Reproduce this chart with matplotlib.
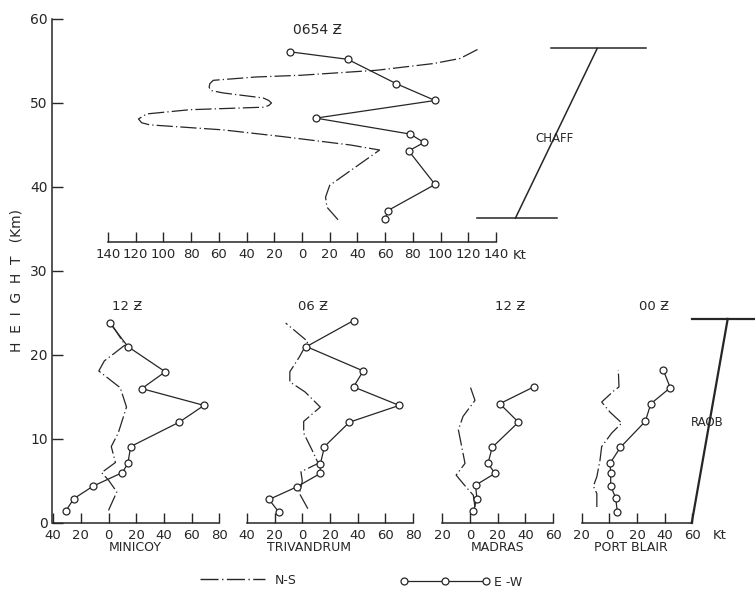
import numpy as np
import matplotlib
matplotlib.use("Agg")
import matplotlib.pyplot as plt
from matplotlib.lines import Line2D
from matplotlib.ticker import FuncFormatter

# ---------------- data (wind component in kt, height in km) ----------------
# 0654 Z chaff sounding
chaff_ew_kt = [-9, 33, 68, 96, 10, 78, 88, 77, 96, 62, 60]
chaff_ew_km = [56.1, 55.2, 52.3, 50.3, 48.2, 46.3, 45.3, 44.3, 40.3, 37.2, 36.2]
chaff_ns_kt = [26, 18, 17, 20, 38, 56, 35, -14, -57, -110, -115.7, -118, -114.5, -112,
               -81, -28, -24, -22, -24, -28, -57, -66, -67, -66.5, -64, -33, -1,
               54, 95, 114, 127]
chaff_ns_km = [36.1, 37.6, 38.8, 40.2, 42.3, 44.4, 45.0, 46.0, 46.8, 47.4, 47.65, 48.1,
               48.45, 48.7, 49.2, 49.5, 49.7, 50.0, 50.3, 50.6, 51.2, 51.5, 51.9, 52.3,
               52.7, 53.1, 53.3, 53.9, 54.7, 55.3, 56.4]

# Minicoy 12 Z
mini_ew_kt = [1, 14, 41, 24, 69, 51, 16, 14, 10, -11, -25, -31]
mini_ew_km = [23.8, 21.0, 18.0, 16.0, 14.0, 12.0, 9.1, 7.1, 6.0, 4.4, 2.9, 1.4]
mini_ns_kt = [0, 6, 0, -5, 5, 2, 7, 13, 8.5, -7, -3, 5, 12, 0]
mini_ns_km = [1.5, 3.7, 5.1, 6.0, 7.2, 9.1, 10.7, 13.8, 16.1, 18.1, 19.3, 20.3, 21.2, 24.2]

# Trivandrum 06 Z
triv_ew_kt = [37, 3, 44, 37, 70, 34, 16, 13, 13, -4, -24, -17]
triv_ew_km = [24.1, 21.0, 18.1, 16.2, 14.0, 12.0, 9.1, 7.0, 5.9, 4.3, 2.8, 1.3]
triv_ns_kt = [4, -2, 0, -1, 11.5, 7, 1, 1, 13, 2, -9, -9, -2, 4, -12]
triv_ns_km = [1.7, 3.5, 5.0, 6.1, 7.1, 8.7, 10.7, 12.1, 13.8, 15.6, 16.8, 18.0, 19.8, 21.6, 23.8]

# Madras 12 Z
mad_ew_kt = [46, 21.5, 35, 16, 13, 18, 4, 5, 2.4]
mad_ew_km = [16.2, 14.2, 12.0, 9.0, 7.1, 5.9, 4.5, 2.9, 1.4]
mad_ns_kt = [3.6, 2.4, -5, -10, -3.6, -6, -8.4, -5, 3.6, 0]
mad_ns_km = [1.9, 3.3, 4.7, 5.7, 7.1, 9.1, 11.1, 12.7, 14.6, 16.3]

# Port Blair 00 Z
pb_ew_kt = [39, 44, 30, 26, 8, 0.5, 1, 1, 4.6, 5.8]
pb_ew_km = [18.2, 16.1, 14.2, 12.1, 9.0, 7.1, 5.9, 4.4, 3.0, 1.3]
pb_ns_kt = [-9, -9, -11.5, -9, -6.7, -5.5, 1.7, 9, 0.5, -5.5, 3, 7, 6.5]
pb_ns_km = [1.9, 3.5, 4.4, 5.5, 7.5, 9.1, 10.7, 11.9, 13.2, 14.4, 15.7, 16.2, 18.2]

# height ranges marked by the brackets
chaff_km = [36.3, 56.5]
raob_km = [0, 24.3]

# ---------------- layout helpers ----------------
W, H = 755, 591
Y0 = 523          # pixel row of 0 km
PX_KM = 8.4       # pixels per km
INK = "#262626"
NS_STYLE = (0, (13, 2.5, 1, 2.5))

fig = plt.figure(figsize=(W / 100, H / 100), dpi=100)
fig.patch.set_facecolor("white")


def h2fig(h):
    return 1 - (Y0 - h * PX_KM) / H


def panel(zero_px, scale, xlo, xhi, hlo, hhi):
    ax = fig.add_axes([(zero_px + xlo * scale) / W, h2fig(hlo),
                       (xhi - xlo) * scale / W, (hhi - hlo) * PX_KM / H])
    ax.set_xlim(xlo, xhi)
    ax.set_ylim(hlo, hhi)
    ax.patch.set_visible(False)
    for s in ["top", "right", "left"]:
        ax.spines[s].set_visible(False)
    ax.spines["bottom"].set_linewidth(1.1)
    ax.spines["bottom"].set_color(INK)
    ax.set_yticks([])
    ax.set_xticks(np.arange(xlo, xhi + 1, 20))
    ax.xaxis.set_major_formatter(FuncFormatter(lambda v, p: f"{abs(v):.0f}"))
    ax.tick_params(axis="x", direction="in", length=7, width=1, pad=4,
                   labelsize=9.5, colors=INK)
    return ax


def draw(ax, ns_kt, ns_km, ew_kt, ew_km):
    ax.plot(ns_kt, ns_km, color=INK, lw=0.9, ls=NS_STYLE, clip_on=False)
    ax.plot(ew_kt, ew_km, color=INK, lw=0.9, marker="o", ms=5, mfc="white",
            mec=INK, mew=0.9, clip_on=False)


# ---- height axis ----
hax = fig.add_axes([52 / W, h2fig(0), 0.001, 60 * PX_KM / H])
hax.set_ylim(0, 60)
hax.set_xticks([])
for s in ["top", "right", "bottom"]:
    hax.spines[s].set_visible(False)
hax.spines["left"].set_linewidth(1.1)
hax.spines["left"].set_color(INK)
hax.set_yticks(np.arange(0, 61, 10))
hax.tick_params(axis="y", direction="in", length=8, width=1, pad=3,
                labelsize=10, colors=INK)
fig.text(17 / W, 1 - 281 / H, "H  E  I  G  H  T   (Km)", rotation=90, ha="center",
         va="center", fontsize=10, color=INK)

# ---- upper panel: chaff ----
top = panel(302, 1.386, -140, 140, 33.4, 60)
draw(top, chaff_ns_kt, chaff_ns_km, chaff_ew_kt, chaff_ew_km)
top.text(11, 58.7, "0654 Ƶ", ha="center", va="center", fontsize=10, color=INK)
top.text(157, 31.9, "Kt", ha="center", va="center", fontsize=9.5, color=INK,
         clip_on=False)
top.plot([180, 248], [chaff_km[1]] * 2, color=INK, lw=1.1, clip_on=False)
top.plot([126, 184], [chaff_km[0]] * 2, color=INK, lw=1.1, clip_on=False)
top.plot([154, 213], chaff_km, color=INK, lw=1.1, clip_on=False)
top.text(182, 45.8, "CHAFF", ha="center", va="center", fontsize=8.5, color=INK)

# ---- lower panels: radiosondes ----
stations = [
    ("MINICOY", "12 Ƶ", 108.5, -40, 80, 13.5, 19,
     mini_ns_kt, mini_ns_km, mini_ew_kt, mini_ew_km),
    ("TRIVANDRUM", "06 Ƶ", 302.3, -40, 80, 7.7, 5,
     triv_ns_kt, triv_ns_km, triv_ew_kt, triv_ew_km),
    ("MADRAS", "12 Ƶ", 470, -20, 60, 29, 20,
     mad_ns_kt, mad_ns_km, mad_ew_kt, mad_ew_km),
    ("PORT BLAIR", "00 Ƶ", 609.3, -20, 60, 32, 15.6,
     pb_ns_kt, pb_ns_km, pb_ew_kt, pb_ew_km),
]
axes = []
for name, hour, zero, lo, hi, tx, nx, nsk, nsh, ewk, ewh in stations:
    ax = panel(zero, 1.385, lo, hi, 0, 26)
    draw(ax, nsk, nsh, ewk, ewh)
    ax.text(tx, 25.8, hour, ha="center", va="center", fontsize=9.5, color=INK)
    ax.text(nx, -2.9, name, ha="center", va="center", fontsize=9, color=INK,
            clip_on=False)
    axes.append(ax)

pb = axes[-1]
pb.text(80, -1.45, "Kt", ha="center", va="center", fontsize=9.5, color=INK,
        clip_on=False)
pb.plot([60, 110], [raob_km[1]] * 2, color=INK, lw=1.6, clip_on=False)
pb.plot([59.5, 85.5], raob_km, color=INK, lw=1.6, clip_on=False)
pb.text(71, 12, "RAOB", ha="center", va="center", fontsize=8.5, color=INK)

# ---- legend ----
ns_handle = Line2D([], [], color=INK, lw=1.0, ls=NS_STYLE)
ew_handle = Line2D([], [], color=INK, lw=0.9, marker="o", ms=5, mfc="white",
                   mec=INK, mew=0.9)
fig.legend([ns_handle], ["N-S"], loc="center", frameon=False, fontsize=9,
           handlelength=5.2, handletextpad=0.8,
           bbox_to_anchor=(248 / W, 1 - 580 / H), labelcolor=INK)
fig.legend([ew_handle], ["E -W"], loc="center", frameon=False, fontsize=9,
           handlelength=7.2, handletextpad=0.3, numpoints=3,
           bbox_to_anchor=(461 / W, 1 - 582 / H), labelcolor=INK)

fig.savefig("out.png", dpi=100, facecolor="white")
